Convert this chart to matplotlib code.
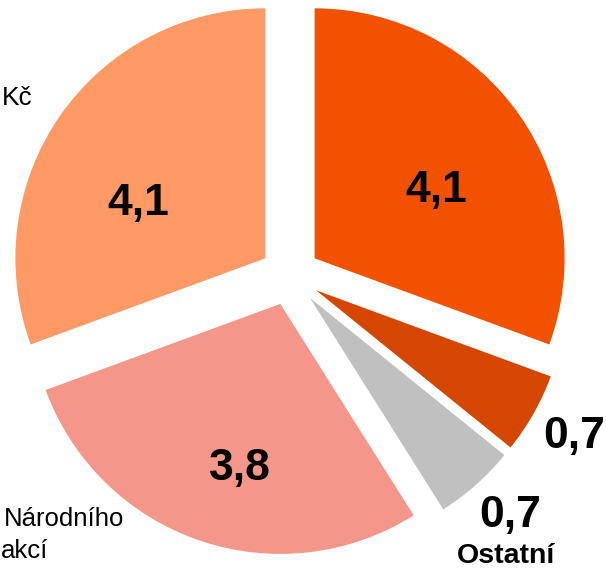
import matplotlib
matplotlib.use("Agg")
import matplotlib.pyplot as plt

# Data
values = [4.1, 0.7, 0.7, 3.8, 4.1]
value_labels = ["4,1", "0,7", "0,7", "3,8", "4,1"]
colors = ["#F25100", "#D54600", "#C0C0C0", "#F4978A", "#FF9966"]
category_texts = ["Kč", "Národního", "akcí", "Ostatní"]

DPI = 100
fig = plt.figure(figsize=(6.06, 5.68), dpi=DPI)
ax = fig.add_axes([0, 0, 1, 1])

wedges, _ = ax.pie(values, colors=colors, startangle=90, counterclock=False,
                   explode=[0.12] * len(values), radius=1.0, center=(0, 0),
                   wedgeprops=dict(linewidth=0))

# pixel -> data mapping: 250 px per unit, pie centre at (290, 275.5) px
S = 250.0
CX, CY = 290.0, 275.5
W, H = 606, 568
ax.set_xlim(-CX / S, (W - CX) / S)
ax.set_ylim(-(H - CY) / S, CY / S)
ax.set_aspect("equal")
ax.axis("off")

def P(px, py):
    return (px - CX) / S, (CY - py) / S

fam = ["Liberation Sans", "DejaVu Sans"]
big = 32

# value labels (same order as values)
val_pos = [(436, 202, "center"), (543, 448, "left"), (510, 527, "center"),
           (240, 480, "center"), (138, 215, "center")]
for lab, (px, py, ha) in zip(value_labels, val_pos):
    x, y = P(px, py)
    ax.text(x, y, lab, ha=ha, va="baseline", fontsize=big, fontweight="bold",
            family=fam, color="black")

# category labels (partially visible)
x, y = P(2, 105)
ax.text(x, y, category_texts[0], ha="left", va="baseline", fontsize=19, family=fam)
x, y = P(4, 526)
ax.text(x, y, category_texts[1], ha="left", va="baseline", fontsize=18.5, family=fam)
x, y = P(1, 558)
ax.text(x, y, category_texts[2], ha="left", va="baseline", fontsize=18.5, family=fam)
x, y = P(506, 563)
ax.text(x, y, category_texts[3], ha="center", va="baseline", fontsize=20.5,
        fontweight="bold", family=fam)

fig.savefig("out.png", dpi=DPI)
